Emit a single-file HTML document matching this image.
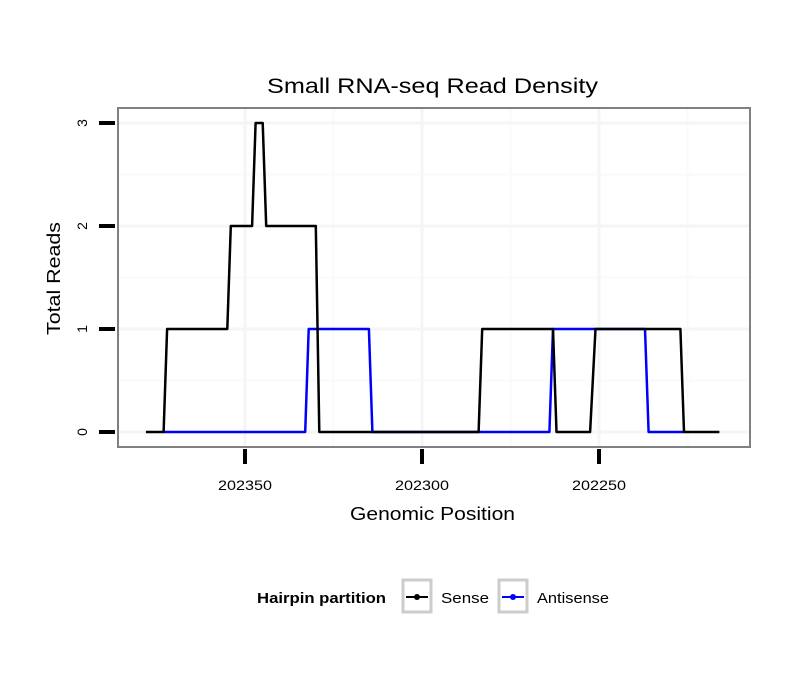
<!DOCTYPE html>
<html><head><meta charset="utf-8">
<style>
html,body{margin:0;padding:0;background:#fff;}
svg{display:block;font-family:"Liberation Sans",sans-serif;}
</style></head>
<body>
<svg id="chart" width="810" height="690" viewBox="0 0 810 690" xmlns="http://www.w3.org/2000/svg">
<text x="267" y="93" font-size="21" textLength="331" lengthAdjust="spacingAndGlyphs" fill="#000">Small RNA-seq Read Density</text>
<g id="grid"></g>
<g id="series"></g>
<rect x="118" y="108" width="632" height="339" fill="none" stroke="#808080" stroke-width="2"/>
<g id="axes"></g>
<text x="350" y="520" font-size="18" textLength="165" lengthAdjust="spacingAndGlyphs">Genomic Position</text>
<text transform="translate(60,335) rotate(-90)" font-size="18" textLength="113" lengthAdjust="spacingAndGlyphs">Total Reads</text>
<g>
<text x="257" y="603" font-size="15" font-weight="bold" textLength="129" lengthAdjust="spacingAndGlyphs">Hairpin partition</text>
<g>
<rect x="403" y="580" width="28" height="32" fill="#fff" stroke="#ccc" stroke-width="3"/>
<line x1="406" y1="597" x2="428" y2="597" stroke="#000" stroke-width="2"/>
<circle cx="417" cy="597" r="3" fill="#000"/>
<text x="441" y="603" font-size="15" textLength="48" lengthAdjust="spacingAndGlyphs">Sense</text>
</g>
<g>
<rect x="499" y="580" width="28" height="32" fill="#fff" stroke="#ccc" stroke-width="3"/>
<line x1="502" y1="597" x2="524" y2="597" stroke="#00f" stroke-width="2"/>
<circle cx="513" cy="597" r="3" fill="#00f"/>
<text x="537" y="603" font-size="15" textLength="72" lengthAdjust="spacingAndGlyphs">Antisense</text>
</g>
</g>
</svg>
<script>
const senseX = [202378,202373,202372,202355,202354,202348,202347,202345,202344,202330,202329,202284,202283,202263,202262,202252.5,202251,202227,202226,202216];
const senseY = [0,0,1,1,2,2,3,3,2,2,0,0,1,1,0,0,1,1,0,0];
const antiX = [202373,202333,202332,202315,202314,202264,202263,202237,202236,202226];
const antiY = [0,0,1,1,0,0,1,1,0,0];
const xTicks = [202350,202300,202250];
const yTicks = [0,1,2,3];

const NS="http://www.w3.org/2000/svg";
function xs(v){return 245+(202350-v)*3.54;}
function ys(v){return 432-v*103;}
function mk(tag,attrs,parent){const e=document.createElementNS(NS,tag);for(const k in attrs)e.setAttribute(k,attrs[k]);parent.appendChild(e);return e;}
const grid=document.getElementById('grid'),axes=document.getElementById('axes'),series=document.getElementById('series');
for(let i=0;i<xTicks.length;i++){
  const m=xTicks[i]-25;
  const g=mk('line',{x1:xs(m),x2:xs(m),y1:108,y2:447,stroke:'#fafafa','stroke-width':2},grid);
  
  
}
for(let i=0;i<yTicks.length-1;i++){
  const m=yTicks[i]+0.5;
  const g=mk('line',{x1:118,x2:750,y1:ys(m),y2:ys(m),stroke:'#fafafa','stroke-width':2},grid);
  
  
}
xTicks.forEach(t=>{
  const g=mk('line',{x1:xs(t),x2:xs(t),y1:108,y2:447,stroke:'#f5f5f5','stroke-width':3},grid);
  
  
  const tk=mk('line',{x1:xs(t),x2:xs(t),y1:449,y2:464,stroke:'#000','stroke-width':4},axes);
  
  
  const lb=mk('text',{x:xs(t),y:490,'font-size':14,'text-anchor':'middle',textLength:54,lengthAdjust:'spacingAndGlyphs'},axes);
  lb.textContent=t;
  
  
});
yTicks.forEach(t=>{
  const g=mk('line',{x1:118,x2:750,y1:ys(t),y2:ys(t),stroke:'#f5f5f5','stroke-width':3},grid);
  
  
  const tk=mk('line',{x1:99,x2:115,y1:ys(t),y2:ys(t),stroke:'#000','stroke-width':4},axes);
  
  
  const lb=mk('text',{transform:`translate(87,${ys(t)}) rotate(-90)`,'font-size':14,'text-anchor':'middle'},axes);
  lb.textContent=t;
  
  
});
function line(X,Y,color,name){
  const d=X.map((x,i)=>(i?'L':'M')+xs(x).toFixed(1)+','+ys(Y[i]).toFixed(1)).join(' ');
  const p=mk('path',{d:d,fill:'none',stroke:color,'stroke-width':2.5,'stroke-linejoin':'round'},series);
  
  
}
line(antiX,antiY,'#0000ff','antisense-line');
line(senseX,senseY,'#000000','sense-line');
</script>
</body></html>
